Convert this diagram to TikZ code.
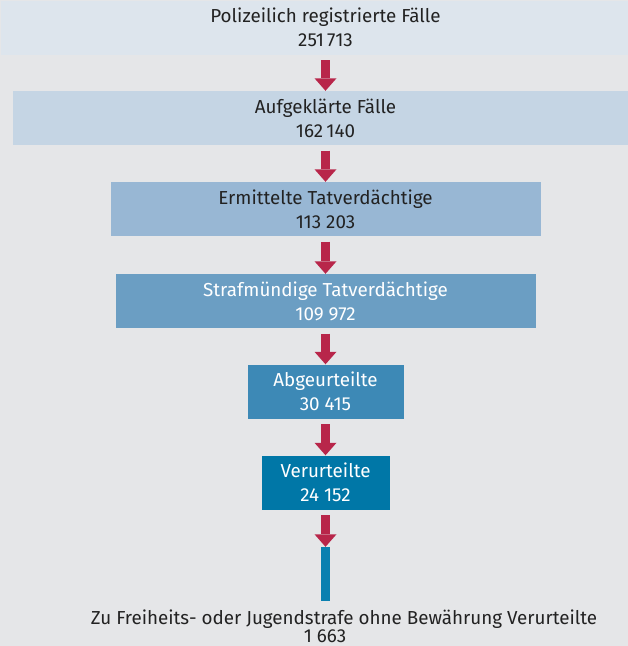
\documentclass[tikz,border=0pt]{standalone}
\usepackage{fontspec}
\setmainfont{Fira Sans}
\usetikzlibrary{arrows.meta, positioning}
\definecolor{pagegray}{HTML}{E5E6E8}
\definecolor{txtdark}{HTML}{222222}
\definecolor{flowred}{HTML}{B8264A}
\definecolor{stageA}{HTML}{DDE5ED}
\definecolor{stageB}{HTML}{C5D5E4}
\definecolor{stageC}{HTML}{98B7D4}
\definecolor{stageD}{HTML}{6B9EC3}
\definecolor{stageE}{HTML}{3D89B6}
\definecolor{stageF}{HTML}{0077A7}
\definecolor{barblue}{HTML}{0A80B0}

\begin{document}
\begin{tikzpicture}[x=1pt, y=-1pt,
    stage/.style={minimum height=54pt, inner sep=0pt, align=center,
                  font=\fontsize{18.8}{24}\selectfont, text=txtdark},
    light/.style={text=white},
    flow/.style={draw=flowred, line width=9.5pt, shorten <=5.5pt,
                 -{Triangle[width=22pt, length=12.5pt, line width=0pt]}},
    note/.style={font=\fontsize{18.8}{24}\selectfont, text=txtdark, anchor=base, inner sep=0pt},
]
    \useasboundingbox (0,0) rectangle (628,646);
    \clip (0,0) rectangle (628,646);
    \fill[pagegray] (0,0) rectangle (628,646);

    \node[stage, fill=stageA, minimum width=650pt] (reg) at (325.5, 27.5) {Polizeilich registrierte Fälle\\251\,713};
    \node[stage, fill=stageB, minimum width=625pt] (aufk) at (325.5, 118) {Aufgeklärte Fälle\\162\,140};
    \node[stage, fill=stageC, minimum width=430pt] (ermt) at (325.5, 209) {Ermittelte Tatverdächtige\\113 203};
    \node[stage, light, fill=stageD, minimum width=420pt] (strf) at (325.5, 301) {Strafmündige Tatverdächtige\\109 972};
    \node[stage, light, fill=stageE, minimum width=156pt] (abgu) at (325.5, 391.5) {Abgeurteilte\\30 415};
    \node[stage, light, fill=stageF, minimum width=128pt] (veru) at (325.5, 482.5) {Verurteilte\\24 152};
    \node[fill=barblue, minimum width=9pt, minimum height=54pt, inner sep=0pt] (bar) at (325.5, 574) {};

    \node[note] (haft) at (344, 624) {Zu Freiheits- oder Jugendstrafe ohne Bewährung Verurteilte};
    \node[note] (haftnum) at (325, 642.5) {1 663};

    \draw[flow] (reg.south) -- (aufk.north);
    \draw[flow] (aufk.south) -- (ermt.north);
    \draw[flow] (ermt.south) -- (strf.north);
    \draw[flow] (strf.south) -- (abgu.north);
    \draw[flow] (abgu.south) -- (veru.north);
    \draw[flow] (veru.south) -- (bar.north);
\end{tikzpicture}
\end{document}
